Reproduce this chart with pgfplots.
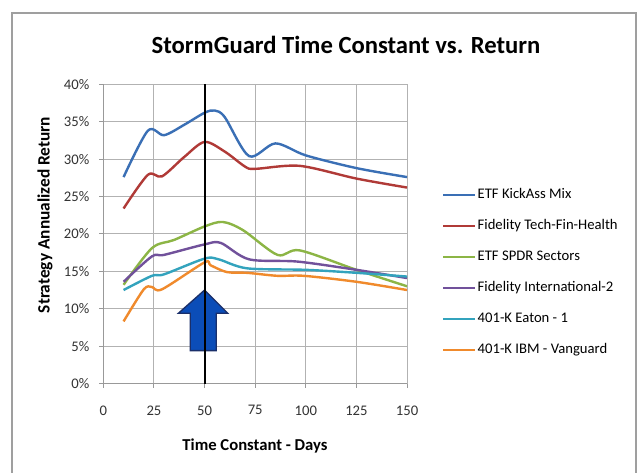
\documentclass[border=0pt]{standalone}
\usepackage{pgfplots}
\pgfplotsset{compat=1.18}
\usepackage{fontspec}
\setmainfont{Carlito}
\definecolor{cblue}{HTML}{3A6FB5}
\definecolor{cred}{HTML}{B03A37}
\definecolor{cgreen}{HTML}{8CB545}
\definecolor{cpurple}{HTML}{71519B}
\definecolor{cteal}{HTML}{33A3BD}
\definecolor{corange}{HTML}{F08A2C}
\definecolor{arrowfill}{HTML}{0B4DB8}
\definecolor{arrowdraw}{HTML}{1A2F6A}
\begin{document}
\begin{tikzpicture}
\useasboundingbox (0,0) rectangle (478.5pt,354.75pt);
\fill[white] (0,0) rectangle (478.5pt,354.75pt);
\draw[gray!75, line width=1.1pt] (9pt,-5pt) -- (9pt,345pt) -- (477pt,345pt) -- (477pt,-5pt);
\node[font=\fontsize{18.5}{21}\selectfont\bfseries] at (259.5pt,321pt) {StormGuard Time Constant vs. Return};
\node[font=\fontsize{13}{15}\selectfont\bfseries, rotate=90] at (33.75pt,193.5pt) {Strategy Annualized Return};
\node[font=\fontsize{12.5}{15}\selectfont\bfseries] at (191.25pt,20.25pt) {Time Constant - Days};
\begin{axis}[
  at={(77.5pt,67.1pt)}, anchor=south west,
  scale only axis, width=227.8pt, height=224.4pt,
  xmin=0, xmax=150, ymin=0, ymax=40,
  xtick={0,25,...,150}, ytick={0,5,...,40},
  yticklabel={\pgfmathprintnumber{\tick}\%},
  /pgf/number format/assume math mode=true,
  ticklabel style={font=\fontsize{11}{13}\selectfont, text=black!80},
  xticklabel style={yshift=-10pt},
  yticklabel style={xshift=-4pt},
  grid=major, major grid style={gray!60, line width=0.8pt},
  axis x line*=bottom, axis y line*=left,
  axis line style={gray!80, line width=0.8pt, -},
  tick style={gray!80, line width=0.8pt},
  tick align=outside, major tick length=3pt,
  xtick pos=bottom, ytick pos=left,
  legend style={at={(1.114,0.652)}, anchor=north west, draw=none, fill=none,
    inner sep=0pt, row sep=14.25pt, column sep=1pt,
    nodes={inner sep=0pt, text height=7pt, text depth=2pt, anchor=west},
    font=\fontsize{11}{13}\selectfont},
  legend cell align=left,
  legend image code/.code={\draw[#1] (0pt,0pt) -- (24pt,0pt);},
  every axis plot/.append style={line width=1.8pt, smooth, tension=0.5},
]
\addplot[cblue] coordinates {(10,27.6) (22,33.8) (30,33.2) (40,34.6) (50,36.2) (55,36.5) (60,35.6) (72,30.4) (85,32.1) (100,30.5) (125,28.8) (150,27.6)};
\addlegendentry{ETF KickAss Mix}
\addplot[cred] coordinates {(10,23.4) (22,27.9) (29,27.7) (40,30.3) (50,32.3) (60,31.0) (70,29.0) (75,28.7) (97,29.1) (125,27.4) (150,26.2)};
\addlegendentry{Fidelity Tech-Fin-Health}
\addplot[cgreen] coordinates {(10,13.2) (24,18.1) (35,19.2) (50,21.0) (59,21.6) (69,20.5) (86,17.2) (97,17.8) (125,15.2) (150,13.0)};
\addlegendentry{ETF SPDR Sectors}
\addplot[cpurple] coordinates {(10,13.6) (24,17.0) (30,17.2) (50,18.6) (58,18.8) (72,16.6) (96,16.3) (125,15.2) (150,14.1)};
\addlegendentry{Fidelity International-2}
\addplot[cteal] coordinates {(10,12.5) (24,14.4) (30,14.6) (50,16.7) (57,16.6) (71,15.4) (100,15.2) (125,14.8) (150,14.3)};
\addlegendentry{401-K Eaton - 1}
\addplot[corange] coordinates {(10,8.3) (20,12.6) (24,12.9) (29,12.6) (50,16.2) (53,15.8) (61,14.9) (71,14.8) (86,14.4) (99,14.4) (125,13.6) (150,12.5)};
\addlegendentry{401-K IBM - Vanguard}
\addplot[forget plot, fill=arrowfill, draw=arrowdraw, line width=1pt, sharp plot] coordinates {(50,12.5) (61.4,9.4) (55.8,9.4) (55.8,4.4) (42.9,4.4) (42.9,9.4) (37.1,9.4) (50,12.5)} -- cycle;
\addplot[forget plot, black, line width=1.5pt, sharp plot] coordinates {(50,0) (50,40)};
\end{axis}
\end{tikzpicture}
\end{document}
